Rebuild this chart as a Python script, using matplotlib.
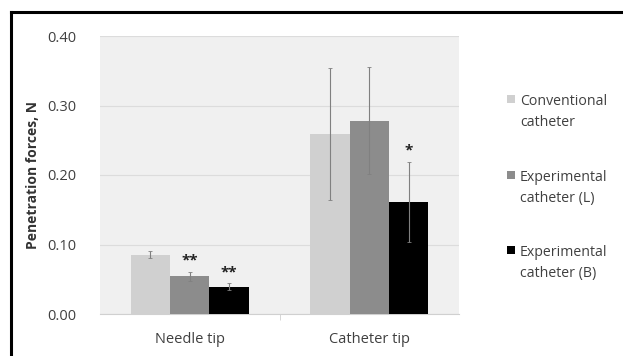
import matplotlib
matplotlib.use("Agg")
import matplotlib.pyplot as plt
import numpy as np
from matplotlib.lines import Line2D
from matplotlib.patches import Rectangle

categories = ["Needle tip", "Catheter tip"]
series = ["Conventional\ncatheter", "Experimental\ncatheter (L)", "Experimental\ncatheter (B)"]
values = [[0.085, 0.259], [0.054, 0.278], [0.039, 0.161]]
errors = [[0.005, 0.095], [0.007, 0.077], [0.005, 0.058]]
stars = [["", ""], ["**", ""], ["**", "*"]]
colors = ["#d0d0d0", "#8c8c8c", "#000000"]
yticks = [0.0, 0.1, 0.2, 0.3, 0.4]

plt.rcParams['font.family'] = ['Open Sans', 'DejaVu Sans']

W, H = 623, 356
fig = plt.figure(figsize=(W / 100, H / 100), dpi=100)
ax = fig.add_axes([100 / W, 1 - 314 / H, 359 / W, 278 / H])
ax.set_facecolor("#f0f0f0")

x = np.arange(len(categories))
bw = 0.22
for i, (vals, errs, col) in enumerate(zip(values, errors, colors)):
    pos = x + (i - 1) * bw
    ax.bar(pos, vals, bw, color=col, zorder=3, label=series[i])
    ax.errorbar(pos, vals, yerr=errs, fmt='none', ecolor="#808080",
                elinewidth=0.8, capsize=1.5, capthick=0.6, zorder=4)
    for p, v, e, s in zip(pos, vals, errs, stars[i]):
        if s:
            ax.text(p, v + e + 0.006, s, ha='center', va='bottom',
                    fontsize=11, fontweight='bold', color="#222222", zorder=5)

ax.set_xlim(-0.5, 1.5)
ax.set_ylim(0, 0.4)
ax.set_yticks(yticks)
ax.set_yticklabels([f"{t:.2f}" for t in yticks], fontsize=10.5, color="#404040")
ax.set_xticks(x)
ax.set_xticklabels(categories, fontsize=10.5, color="#404040")
ax.tick_params(axis='y', length=0, pad=17)
ax.tick_params(axis='x', length=0, pad=13)
ax.set_xticks([0.5], minor=True)
ax.tick_params(axis='x', which='minor', length=4, color="#d0d0d0", direction='out')
ax.grid(axis='y', color="#dcdcdc", linewidth=0.8, zorder=0)
for s in ["top", "right", "left"]:
    ax.spines[s].set_visible(False)
ax.spines["bottom"].set_color("#d0d0d0")
ax.set_ylabel("Penetration forces, N", fontsize=10, fontweight='bold',
              color="#333333")
ax.yaxis.set_label_coords((40 - 100) / 359, 0.5)

# legend: square aligned with first line of each label
for i, (lab, col) in enumerate(zip(series, colors)):
    yb = 105 + 75.5 * i
    fig.add_artist(Rectangle((507 / W, 1 - (yb - 2) / H), 8 / W, 8 / H,
                             facecolor=col, edgecolor='none',
                             transform=fig.transFigure))
    for k, line in enumerate(lab.split("\n")):
        fig.text(520 / W, 1 - (yb + 21.5 * k) / H, line, ha='left', va='baseline',
                 fontsize=10.2, color="#404040")

# outer frame (partially cropped)
fig.add_artist(Line2D([11 / W, 11 / W], [0, 1 - 12 / H], color='black', lw=2.2,
                      transform=fig.transFigure))
fig.add_artist(Line2D([11 / W, 1], [1 - 12 / H, 1 - 12 / H], color='black', lw=2.2,
                      transform=fig.transFigure))

fig.savefig("out.png", dpi=100)
